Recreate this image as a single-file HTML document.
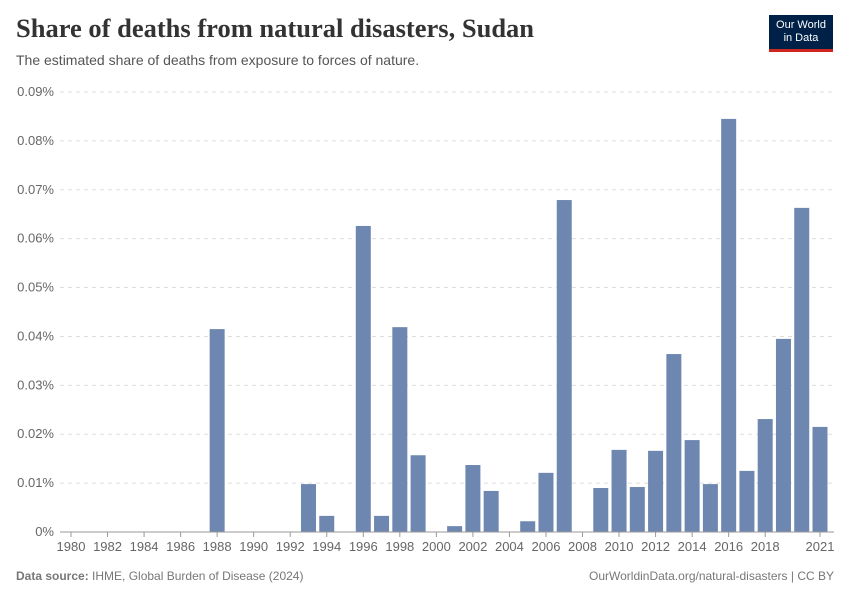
<!DOCTYPE html>
<html><head><meta charset="utf-8"><style>
body{margin:0;background:#fff;font-family:"Liberation Sans",sans-serif;}
#wrap{position:relative;width:850px;height:600px;overflow:hidden;}
.title{position:absolute;left:16px;top:13px;font-family:"Liberation Serif",serif;font-size:26.5px;font-weight:bold;color:#333;}
.sub{position:absolute;left:16px;top:52px;font-size:14px;color:#555;}
.logo{position:absolute;left:769px;top:15px;width:64px;height:37px;background:#002147;color:#fff;font-size:11px;text-align:center;line-height:13px;padding-top:4px;box-sizing:border-box;border-bottom:3px solid #ce261e;}
.foot{position:absolute;top:569px;font-size:12px;color:#777;}
</style></head><body>
<div id="wrap">
<div class="title">Share of deaths from natural disasters, Sudan</div>
<div class="sub">The estimated share of deaths from exposure to forces of nature.</div>
<div class="logo">Our World<br>in Data</div>
<svg id="chart" width="850" height="600" style="position:absolute;left:0;top:0"></svg>
<div class="foot" style="left:16px"><b>Data source:</b> IHME, Global Burden of Disease (2024)</div>
<div class="foot" style="right:16px">OurWorldinData.org/natural-disasters | CC BY</div>
</div>
<script>
const years=[];for(let y=1980;y<=2021;y++)years.push(y);
const values=[0,0,0,0,0,0,0,0,0.0415,0,0,0,0,0.0098,0.0033,0,0.0626,0.0033,0.0419,0.0157,0,0.0012,0.0137,0.0084,0,0.0022,0.0121,0.0679,0,0.009,0.0168,0.0092,0.0166,0.0364,0.0188,0.0098,0.0845,0.0125,0.0231,0.0395,0.0663,0.0215];
const yTicks=[0,0.01,0.02,0.03,0.04,0.05,0.06,0.07,0.08,0.09];
const xTicks=[1980,1982,1984,1986,1988,1990,1992,1994,1996,1998,2000,2002,2004,2006,2008,2010,2012,2014,2016,2018,2021];
const svg=document.getElementById('chart');const NS='http://www.w3.org/2000/svg';
const y0=532,y1=92,ymax=0.09;
const ys=v=>y0-(v/ymax)*(y0-y1);
const xs=yr=>71+(yr-1980)*(820-71)/41;
function el(t,a){const e=document.createElementNS(NS,t);for(const k in a)e.setAttribute(k,a[k]);svg.appendChild(e);return e;}
yTicks.forEach(t=>{
 const l=el('line',{x1:60,x2:834,y1:ys(t),y2:ys(t),stroke:'#ddd','stroke-dasharray':t?'4,4':'none'});
 
 
 const tx=el('text',{x:54,y:ys(t)+4,'text-anchor':'end','font-size':13,fill:'#666','font-family':'Liberation Sans'});
 tx.textContent=(t===0?'0':(t.toFixed(2)))+'%';
 
 
});
years.forEach((yr,i)=>{
 if(!values[i])return;
 const r=el('rect',{x:xs(yr)-7.5,y:ys(values[i]),width:15,height:y0-ys(values[i]),fill:'#6d87b0'});
 
 
});
const ax=el('line',{x1:60,x2:834,y1:y0,y2:y0,stroke:'#999'});


xTicks.forEach(yr=>{
 const tk=el('line',{x1:xs(yr),x2:xs(yr),y1:y0,y2:y0+5,stroke:'#999'});
 
 
 const tx=el('text',{x:xs(yr),y:551,'text-anchor':'middle','font-size':13,fill:'#666','font-family':'Liberation Sans'});
 tx.textContent=yr;
 
 
});
</script>
</body></html>
